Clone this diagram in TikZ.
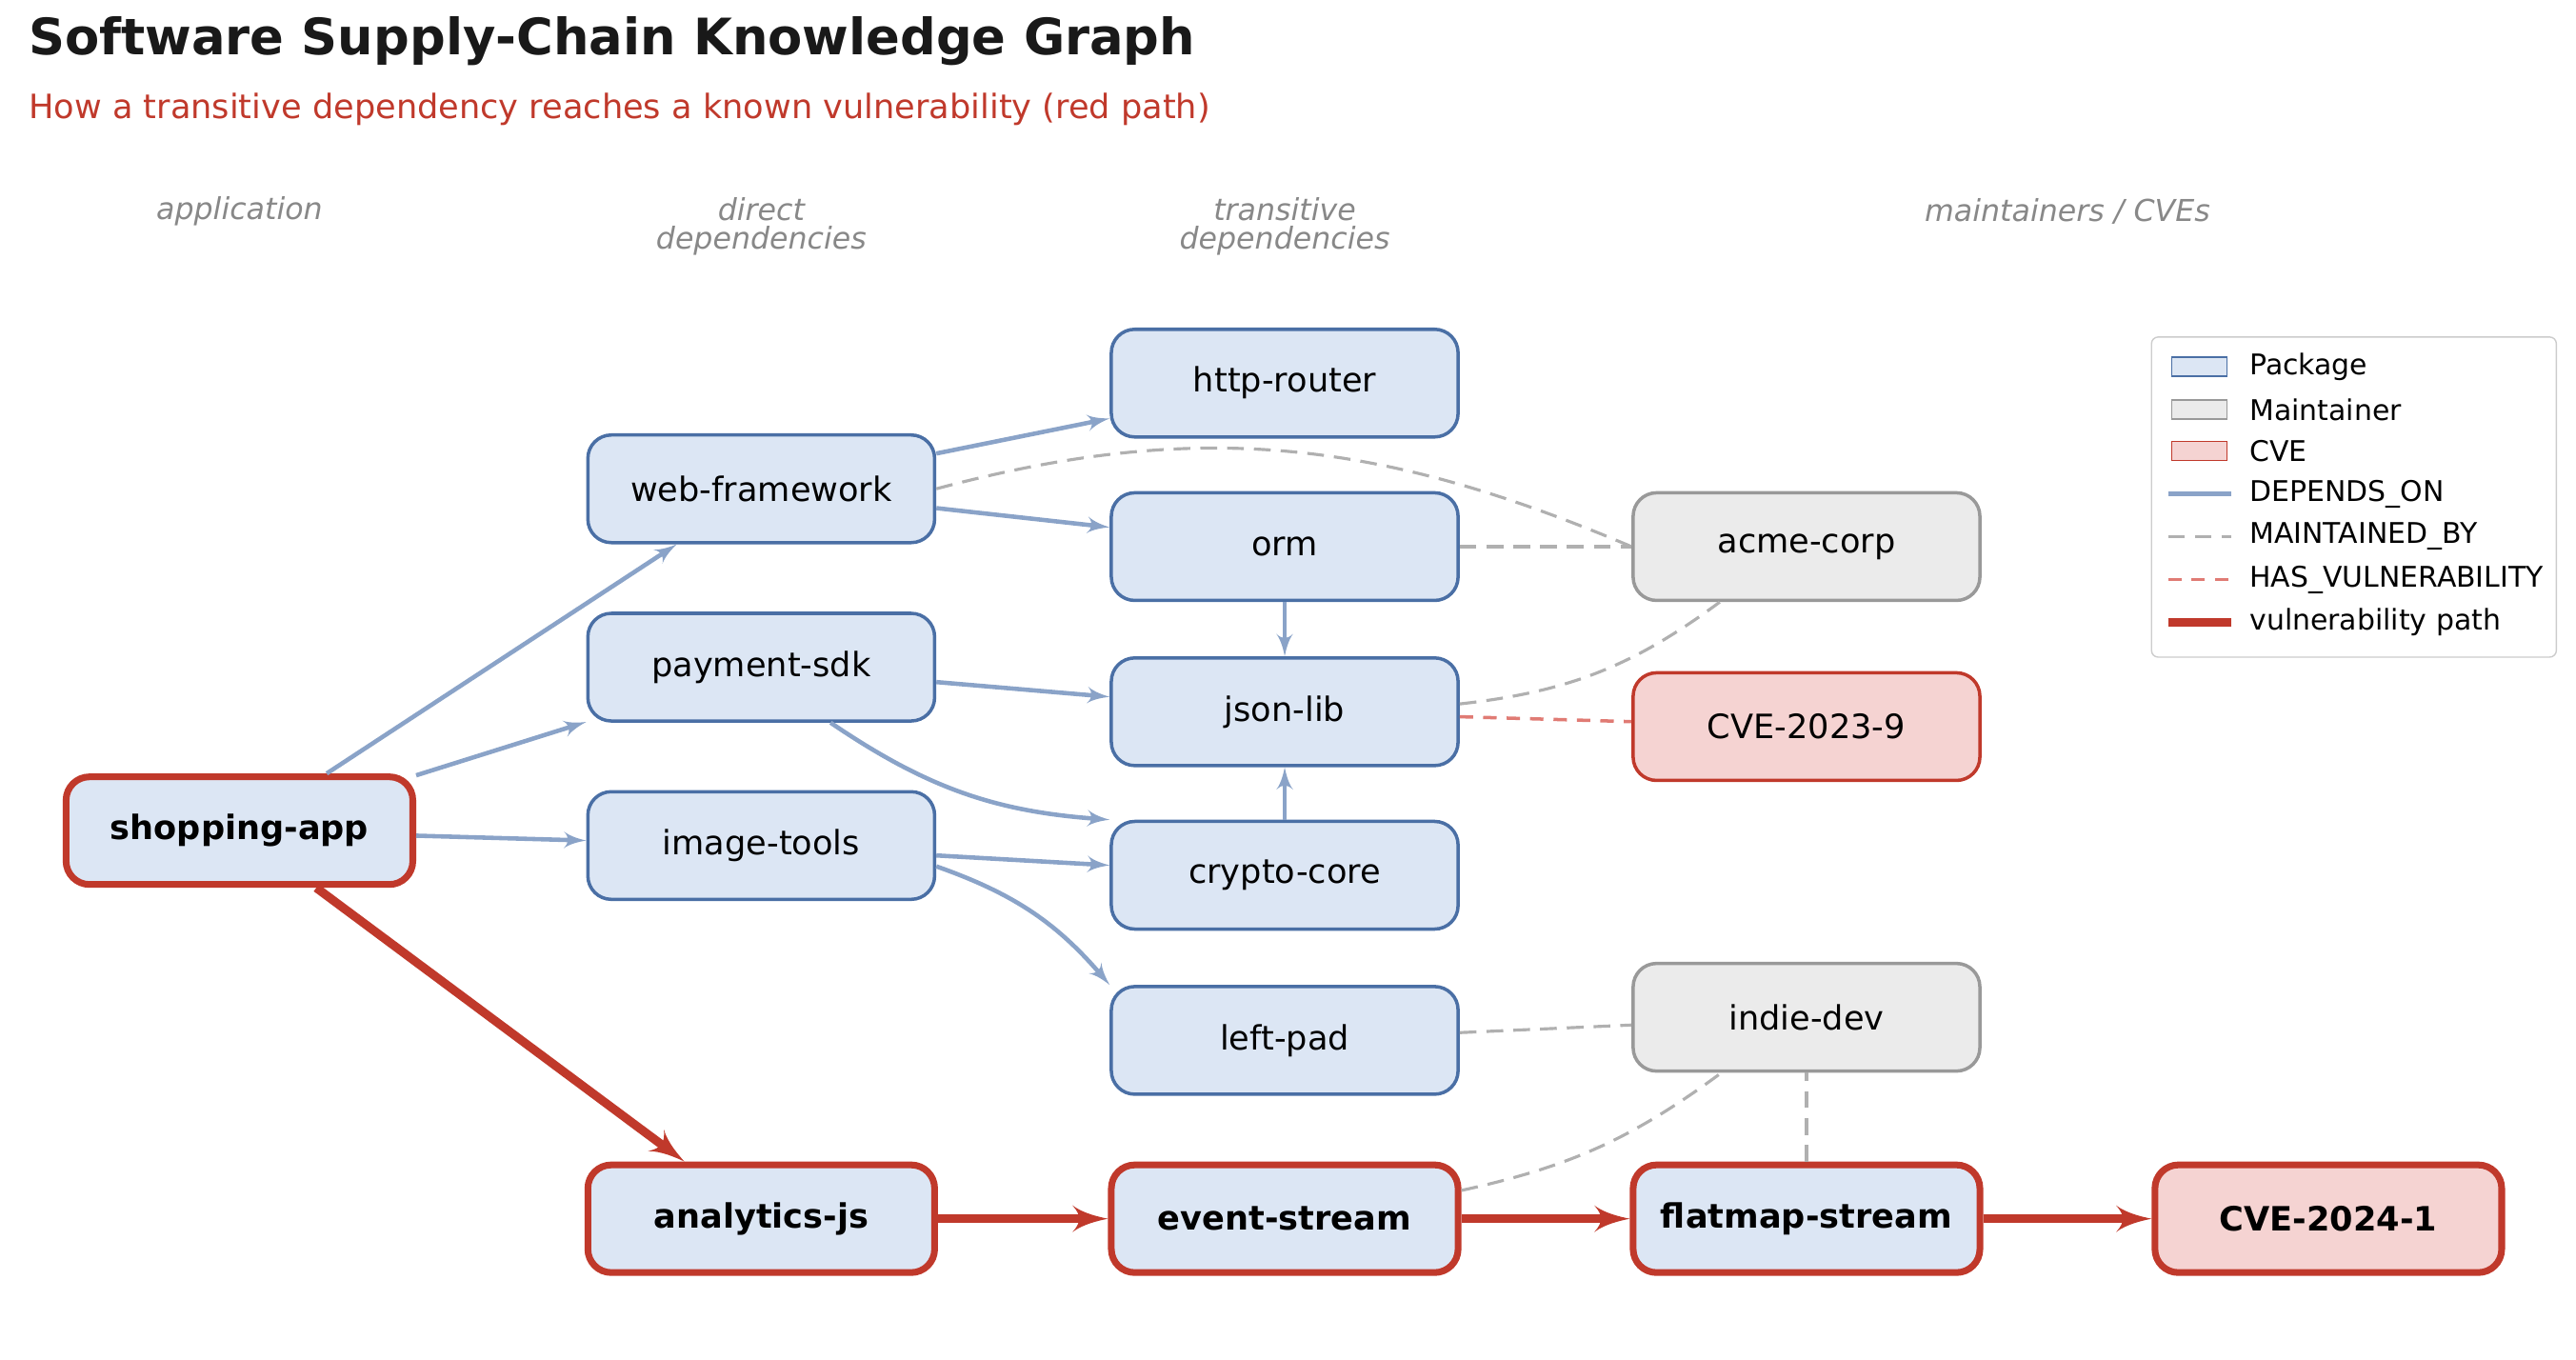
\documentclass[tikz,border=0pt]{standalone}
\usepackage{fontspec}
\setmainfont{DejaVu Sans}
\usepackage{xcolor}
\usetikzlibrary{shapes,arrows,positioning,calc}
\definecolor{pkgfill}{HTML}{DCE6F4}
\definecolor{pkgdraw}{HTML}{4A6FA5}
\definecolor{depedge}{HTML}{8AA3C8}
\definecolor{mntfill}{HTML}{EBEBEB}
\definecolor{mntdraw}{HTML}{999999}
\definecolor{cvefill}{HTML}{F5D3D2}
\definecolor{vulnred}{HTML}{C0392B}
\definecolor{vulndash}{HTML}{E07B74}
\definecolor{mntedge}{HTML}{B0B0B0}
\definecolor{coltext}{HTML}{888888}
\begin{document}
\begin{tikzpicture}[x=0.01734cm, y=-0.01734cm, >=latex']
\tikzset{
box/.style      = {draw, rounded corners=7pt, minimum width=3.64cm, minimum height=1.13cm, font=\fontsize{10}{12}\selectfont, line width=1pt},
package/.style  = {box, fill=pkgfill, draw=pkgdraw},
maintainer/.style = {box, fill=mntfill, draw=mntdraw},
cve/.style      = {box, fill=cvefill, draw=vulnred},
onpath/.style   = {draw=vulnred, line width=2pt, font=\fontsize{10}{12}\selectfont\bfseries},
dep/.style      = {->, draw=depedge, line width=1.3pt},
maint/.style    = {draw=mntedge, line width=0.9pt, dash pattern=on 5pt off 3pt},
vuln/.style     = {draw=vulndash, line width=1pt, dash pattern=on 4pt off 3pt},
vpath/.style    = {->, draw=vulnred, line width=2.6pt},
collabel/.style = {text=coltext, font=\fontsize{9}{10.5}\selectfont\itshape, align=center},
legtext/.style  = {anchor=west, inner sep=0pt, font=\fontsize{8.5}{10}\selectfont},
}
    \useasboundingbox (0,0) rectangle (1560,823);

    % Titles
    \node [anchor=west, inner sep=0pt] (title) at (17,25) {\fontsize{15}{18}\selectfont\bfseries\color{black!90} Software Supply-Chain Knowledge Graph};
    \node [anchor=west, inner sep=0pt, text=vulnred] (subtitle) at (17,66) {\fontsize{10}{12}\selectfont How a transitive dependency reaches a known vulnerability (red path)};

    % Column labels
    \node [collabel] (lapp)   at (145,128)  {application};
    \node [collabel] (ldir)   at (461,137)  {direct\\[-2pt]dependencies};
    \node [collabel] (ltrans) at (778,137)  {transitive\\[-2pt]dependencies};
    \node [collabel] (lmnt)   at (1252,128) {maintainers / CVEs};

    % Main nodes
    \node [package, onpath] (app)      at (145,503)  {shopping-app};
    \node [package]         (webfw)    at (461,296)  {web-framework};
    \node [package]         (paysdk)   at (461,404)  {payment-sdk};
    \node [package]         (imgtools) at (461,512)  {image-tools};
    \node [package, onpath] (analytics) at (461,738) {analytics-js};
    \node [package]         (router)   at (778,232)  {http-router};
    \node [package]         (orm)      at (778,331)  {orm};
    \node [package]         (json)     at (778,431)  {json-lib};
    \node [package]         (crypto)   at (778,530)  {crypto-core};
    \node [package]         (leftpad)  at (778,630)  {left-pad};
    \node [package, onpath] (evstream) at (778,738)  {event-stream};
    \node [maintainer]      (acme)     at (1094,331) {acme-corp};
    \node [cve]             (cveold)   at (1094,440) {CVE-2023-9};
    \node [maintainer]      (indie)    at (1094,616) {indie-dev};
    \node [package, onpath] (flatmap)  at (1094,738) {flatmap-stream};
    \node [cve, onpath]     (cvenew)   at (1410,738) {CVE-2024-1};

    % Dependency edges
    \draw [dep] (app)      --  (webfw);
    \draw [dep] (app)      --  (paysdk);
    \draw [dep] (app)      --  (imgtools);
    \draw [dep] (webfw)    --  (router);
    \draw [dep] (webfw)    --  (orm);
    \draw [dep] (paysdk)   --  (json);
    \draw [dep] (paysdk)   to [bend right=15] (crypto.north west);
    \draw [dep] (imgtools) --  (crypto);
    \draw [dep] (imgtools) to [bend left=15] (leftpad.north west);
    \draw [dep] (orm)      --  (json);
    \draw [dep] (crypto)   --  (json);

    % Maintainer and vulnerability edges
    \draw [maint] (webfw.east) to [out=15, in=157] (acme.west);
    \draw [maint] (orm)      --  (acme);
    \draw [maint] (json)     to [bend right=15] (acme);
    \draw [vuln]  (json)     --  (cveold);
    \draw [maint] (leftpad)  --  (indie);
    \draw [maint] (evstream) to [bend right=12] (indie);
    \draw [maint] (flatmap)  --  (indie);

    % Vulnerability path
    \draw [vpath] (app)       --  (analytics);
    \draw [vpath] (analytics) --  (evstream);
    \draw [vpath] (evstream)  --  (flatmap);
    \draw [vpath] (flatmap)   --  (cvenew);

    % Legend
    \node [draw=black!20, fill=white, rounded corners=2pt, minimum width=4.25cm, minimum height=3.36cm] (legend) at (1425.5,301) {};
    \node [draw=pkgdraw, fill=pkgfill, minimum width=0.58cm, minimum height=0.2cm, inner sep=0] (kpkg) at (1332,222) {};
    \node [legtext] (tpkg) at (1362,222) {Package};
    \node [draw=mntdraw, fill=mntfill, minimum width=0.58cm, minimum height=0.2cm, inner sep=0] (kmnt) at (1332,248) {};
    \node [legtext] (tmnt) at (1362,248) {Maintainer};
    \node [draw=vulnred, fill=cvefill, minimum width=0.58cm, minimum height=0.2cm, inner sep=0] (kcve) at (1332,273) {};
    \node [legtext] (tcve) at (1362,273) {CVE};
    \coordinate (kdep1) at (1313,299); \coordinate (kdep2) at (1351,299);
    \draw [draw=depedge, line width=1.3pt] (kdep1) -- (kdep2);
    \node [legtext] (tdep) at (1362,299) {DEPENDS\_ON};
    \coordinate (kmb1) at (1313,325); \coordinate (kmb2) at (1351,325);
    \draw [maint] (kmb1) -- (kmb2);
    \node [legtext] (tmb) at (1362,325) {MAINTAINED\_BY};
    \coordinate (khv1) at (1313,351); \coordinate (khv2) at (1351,351);
    \draw [vuln] (khv1) -- (khv2);
    \node [legtext] (thv) at (1362,351) {HAS\_VULNERABILITY};
    \coordinate (kvp1) at (1313,377); \coordinate (kvp2) at (1351,377);
    \draw [draw=vulnred, line width=2.6pt] (kvp1) -- (kvp2);
    \node [legtext] (tvp) at (1362,377) {vulnerability path};

\end{tikzpicture}
\end{document}
